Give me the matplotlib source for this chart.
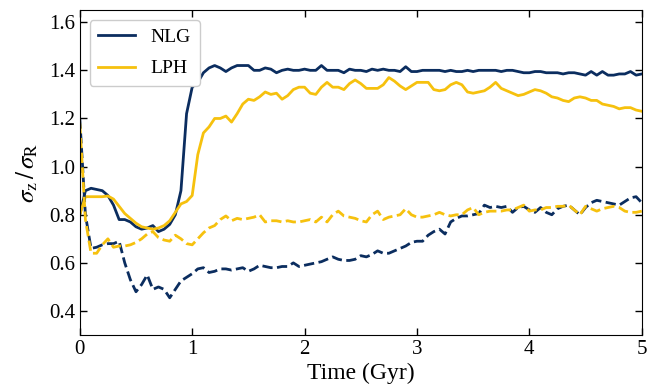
import numpy as np
import matplotlib
matplotlib.use("Agg")
import matplotlib.pyplot as plt

# === Data ===
time_gyr = np.linspace(0, 5, 101)

nlg_solid = [
    0.80, 0.90, 0.91, 0.905, 0.90, 0.88, 0.84, 0.78, 0.78, 0.77,
    0.75, 0.74, 0.745, 0.755, 0.73, 0.74, 0.76, 0.80, 0.90, 1.22,
    1.33, 1.35, 1.39, 1.41, 1.42, 1.41, 1.395, 1.41, 1.42, 1.42,
    1.42, 1.40, 1.40, 1.41, 1.405, 1.39, 1.40, 1.405, 1.40, 1.40,
    1.405, 1.40, 1.40, 1.42, 1.40, 1.40, 1.40, 1.39, 1.405, 1.40,
    1.40, 1.395, 1.405, 1.40, 1.405, 1.40, 1.40, 1.395, 1.415, 1.395,
    1.395, 1.40, 1.40, 1.40, 1.40, 1.395, 1.40, 1.395, 1.395, 1.40,
    1.395, 1.40, 1.40, 1.40, 1.40, 1.395, 1.40, 1.40, 1.395, 1.39,
    1.39, 1.395, 1.395, 1.39, 1.39, 1.39, 1.385, 1.39, 1.39, 1.385,
    1.38, 1.395, 1.38, 1.395, 1.38, 1.38, 1.385, 1.385, 1.395, 1.38,
    1.385,
]

lph_solid = [
    0.80, 0.875, 0.875, 0.875, 0.875, 0.878, 0.865, 0.835, 0.805, 0.785,
    0.765, 0.75, 0.745, 0.74, 0.745, 0.755, 0.775, 0.81, 0.845, 0.855,
    0.88, 1.05, 1.14, 1.165, 1.20, 1.20, 1.21, 1.185, 1.22, 1.26,
    1.28, 1.275, 1.29, 1.31, 1.30, 1.305, 1.28, 1.295, 1.32, 1.33,
    1.33, 1.305, 1.30, 1.33, 1.35, 1.33, 1.33, 1.32, 1.345, 1.36,
    1.345, 1.325, 1.325, 1.325, 1.34, 1.37, 1.355, 1.335, 1.32, 1.335,
    1.35, 1.35, 1.35, 1.32, 1.315, 1.32, 1.34, 1.35, 1.34, 1.31,
    1.305, 1.31, 1.315, 1.33, 1.35, 1.325, 1.315, 1.305, 1.295, 1.30,
    1.31, 1.32, 1.315, 1.305, 1.29, 1.285, 1.275, 1.27, 1.285, 1.29,
    1.285, 1.275, 1.275, 1.26, 1.255, 1.25, 1.24, 1.245, 1.245, 1.235,
    1.23,
]

nlg_dashed = [
    1.20, 0.80, 0.66, 0.665, 0.675, 0.68, 0.68, 0.69, 0.60, 0.53,
    0.48, 0.51, 0.55, 0.49, 0.50, 0.49, 0.455, 0.49, 0.525, 0.54,
    0.555, 0.575, 0.58, 0.56, 0.565, 0.575, 0.575, 0.57, 0.575, 0.58,
    0.565, 0.575, 0.59, 0.585, 0.58, 0.58, 0.585, 0.585, 0.60, 0.585,
    0.59, 0.595, 0.60, 0.605, 0.615, 0.625, 0.615, 0.61, 0.61, 0.615,
    0.63, 0.625, 0.635, 0.65, 0.64, 0.64, 0.65, 0.66, 0.67, 0.685,
    0.69, 0.69, 0.715, 0.73, 0.74, 0.72, 0.77, 0.785, 0.795, 0.795,
    0.80, 0.805, 0.84, 0.83, 0.835, 0.83, 0.835, 0.81, 0.83, 0.835,
    0.82, 0.81, 0.83, 0.81, 0.80, 0.825, 0.835, 0.84, 0.82, 0.80,
    0.83, 0.85, 0.86, 0.855, 0.85, 0.845, 0.84, 0.855, 0.87, 0.875,
    0.85,
]

lph_dashed = [
    1.18, 0.78, 0.64, 0.64, 0.675, 0.70, 0.665, 0.67, 0.67, 0.675,
    0.685, 0.70, 0.72, 0.73, 0.705, 0.695, 0.69, 0.715, 0.70, 0.68,
    0.675, 0.70, 0.725, 0.745, 0.755, 0.78, 0.795, 0.775, 0.785, 0.78,
    0.785, 0.79, 0.80, 0.77, 0.775, 0.775, 0.77, 0.775, 0.77, 0.77,
    0.775, 0.78, 0.77, 0.79, 0.77, 0.80, 0.815, 0.795, 0.79, 0.785,
    0.775, 0.77, 0.80, 0.815, 0.78, 0.79, 0.795, 0.80, 0.825, 0.80,
    0.79, 0.79, 0.795, 0.80, 0.81, 0.80, 0.795, 0.80, 0.80, 0.82,
    0.83, 0.80, 0.81, 0.815, 0.815, 0.815, 0.82, 0.82, 0.83, 0.84,
    0.815, 0.82, 0.82, 0.83, 0.83, 0.835, 0.835, 0.84, 0.82, 0.80,
    0.835, 0.825, 0.815, 0.825, 0.83, 0.835, 0.83, 0.815, 0.81, 0.81,
    0.815,
]

# === Style ===
plt.rcParams["font.family"] = ["Liberation Serif", "DejaVu Serif"]
plt.rcParams["mathtext.fontset"] = "stix"

navy = "#0b2d5f"
gold = "#f6c10e"

fig = plt.figure(figsize=(6.65, 3.91), dpi=100)
ax = fig.add_axes([0.120, 0.143, 0.845, 0.831])

ax.plot(time_gyr, nlg_solid, color=navy, lw=2.0, label="NLG")
ax.plot(time_gyr, lph_solid, color=gold, lw=2.0, label="LPH")
ax.plot(time_gyr, nlg_dashed, color=navy, lw=2.0, ls="--")
ax.plot(time_gyr, lph_dashed, color=gold, lw=2.0, ls="--")

ax.set_xlim(0, 5)
ax.set_ylim(0.3, 1.65)
ax.set_xticks([0, 1, 2, 3, 4, 5])
ax.set_yticks([0.4, 0.6, 0.8, 1.0, 1.2, 1.4, 1.6])
ax.set_yticklabels(["0.4", "0.6", "0.8", "1.0", "1.2", "1.4", "1.6"])
ax.tick_params(direction="in", top=True, right=True, length=5, width=1,
               labelsize=15)

ax.set_xlabel("Time (Gyr)", fontsize=17, labelpad=3)
ax.set_ylabel(r"$\sigma_{\rm z}\,/\,\sigma_{\rm R}$", fontsize=18, labelpad=6)

ax.legend(loc="upper left", fontsize=14, handlelength=1.9, handletextpad=0.8,
          borderpad=0.45, labelspacing=0.7, framealpha=1, edgecolor="#cccccc")

fig.savefig("out.png", dpi=100)
